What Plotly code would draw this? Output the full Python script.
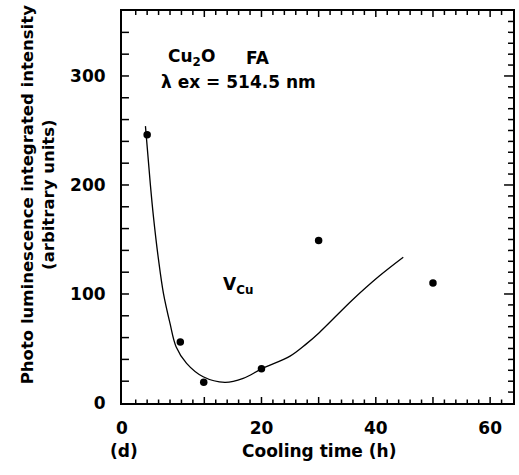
import plotly.graph_objects as go

# Data
cooling_time = [0.0, 5.8, 9.9, 20.0, 30.0, 50.0]
intensity = [246, 56, 19, 31.5, 149, 110]

fit_time = [-0.3, 0.55, 1.1, 2.0, 2.85, 4.0, 5.06, 6.9, 9.8, 13.6, 16.8, 20.2, 25.0, 27.8, 30.1, 35.9, 40.5, 44.8]
fit_intensity = [254, 201, 171, 131, 100.6, 73, 51.7, 36.4, 24.1, 19, 22.6, 31.8, 43, 54, 64.5, 94.5, 116, 133.7]

XMIN, XMAX = -4.4, 64.0
YMIN, YMAX = 0, 359.6
x_tickvals = [XMIN, 10, 20, 30, 40, 50, 60]
x_ticktext = ["0", "", "20", "", "40", "", "60"]
y_tickvals = [0, 100, 200, 300]
y_ticktext = ["0", "100", "200", "300"]

# tick-mark positions (frame decoration)
x_major_marks = [10, 20, 30, 40, 50, 60]
x_minor_marks = [v for v in range(-2, 64, 2) if v % 10 != 0 or v == 0]
y_left_marks = list(range(20, 360, 20))
y_right_major = [100, 200, 300]
y_right_minor = [v for v in range(10, 360, 10) if v % 100 != 0]

W, H = 519, 475
ML, MR, MT, MB = 122, 4, 11, 72
PX_PER_X = (W - ML - MR) / (XMAX - XMIN)
PX_PER_Y = (H - MT - MB) / (YMAX - YMIN)

FONT = "DejaVu Sans, Liberation Sans, sans-serif"
TW = 1.5

fig = go.Figure()

def vticks(vals, base, length_px, down=False):
    d = length_px / PX_PER_Y * (-1 if down else 1)
    xs, ys = [], []
    for v in vals:
        xs += [v, v, None]
        ys += [base, base + d, None]
    fig.add_trace(go.Scatter(x=xs, y=ys, mode="lines", line=dict(color="black", width=TW),
                             showlegend=False, hoverinfo="skip", cliponaxis=False))

def hticks(vals, base, length_px, left=False):
    d = length_px / PX_PER_X * (-1 if left else 1)
    xs, ys = [], []
    for v in vals:
        xs += [base, base + d, None]
        ys += [v, v, None]
    fig.add_trace(go.Scatter(x=xs, y=ys, mode="lines", line=dict(color="black", width=TW),
                             showlegend=False, hoverinfo="skip", cliponaxis=False))

vticks(x_major_marks, YMIN, 6)
vticks(x_minor_marks, YMIN, 3.5)
vticks(x_major_marks, YMAX, 6, down=True)
vticks(x_minor_marks, YMAX, 4, down=True)
hticks(y_left_marks, XMIN, 7)
hticks(y_right_major, XMAX, 9, left=True)
hticks(y_right_minor, XMAX, 5, left=True)

fig.add_trace(go.Scatter(x=fit_time, y=fit_intensity, mode="lines", line_shape="spline",
                         line=dict(color="black", width=1.3), showlegend=False, hoverinfo="skip"))
fig.add_trace(go.Scatter(x=cooling_time, y=intensity, mode="markers",
                         marker=dict(color="black", size=7.5), showlegend=False))

fig.update_layout(
    width=W, height=H,
    margin=dict(l=ML, r=MR, t=MT, b=MB),
    paper_bgcolor="white", plot_bgcolor="white",
    font=dict(family=FONT, size=17, color="black"),
    xaxis=dict(range=[XMIN, XMAX], showgrid=False, zeroline=False,
               showline=True, linecolor="black", linewidth=2, mirror=True,
               ticks="", tickmode="array", tickvals=x_tickvals, ticktext=x_ticktext,
               tickfont=dict(family=FONT, size=17, color="black", weight="bold"),
               ticklabelstandoff=9),
    yaxis=dict(range=[YMIN, YMAX], showgrid=False, zeroline=False,
               showline=True, linecolor="black", linewidth=2, mirror=True,
               ticks="", tickmode="array", tickvals=y_tickvals, ticktext=y_ticktext,
               tickfont=dict(family=FONT, size=17, color="black", weight="bold"),
               ticklabelstandoff=11),
    annotations=[
        dict(text="<b>Photo luminescence integrated intensity<br>(arbitrary units)</b>",
             xref="paper", yref="paper", x=0, y=0.53, xshift=-84, textangle=-90,
             showarrow=False, xanchor="center", yanchor="middle",
             font=dict(family=FONT, size=16.5)),
        dict(text="<b>Cooling time (h)</b>", xref="paper", yref="paper", x=0.504, y=0, yshift=-48,
             showarrow=False, xanchor="center", yanchor="middle",
             font=dict(family=FONT, size=17)),
        dict(text="<b>(d)</b>", xref="paper", yref="paper", x=0, y=0, yshift=-48, xshift=2,
             showarrow=False, xanchor="center", yanchor="middle",
             font=dict(family=FONT, size=17)),
        dict(text="<b>Cu<sub>2</sub>O</b>", x=3.3, y=316.5, xref="x", yref="y",
             showarrow=False, xanchor="left", yanchor="middle",
             font=dict(family=FONT, size=17)),
        dict(text="<b>FA</b>", x=17.0, y=316.5, xref="x", yref="y",
             showarrow=False, xanchor="left", yanchor="middle",
             font=dict(family=FONT, size=17)),
        dict(text="<b>\u03bb ex = 514.5 nm</b>", x=2.1, y=294.5, xref="x", yref="y",
             showarrow=False, xanchor="left", yanchor="middle",
             font=dict(family=FONT, size=17)),
        dict(text="<b>V<sub>Cu</sub></b>", x=13.0, y=108, xref="x", yref="y",
             showarrow=False, xanchor="left", yanchor="middle",
             font=dict(family=FONT, size=17)),
    ],
)

fig.write_html("out.html")
